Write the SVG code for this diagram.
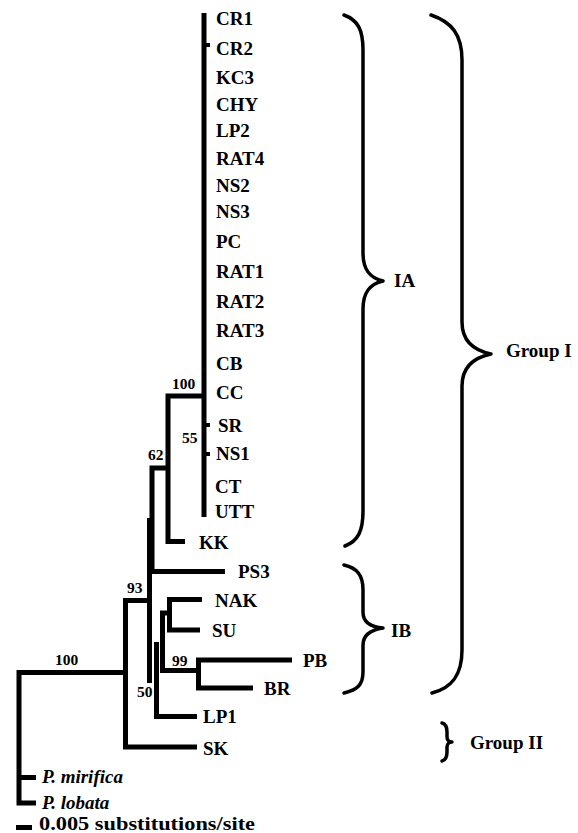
<svg xmlns="http://www.w3.org/2000/svg" width="578" height="833" viewBox="0 0 578 833">
<style>
.t{font-family:"Liberation Serif","Times New Roman",serif;font-weight:bold;font-size:19px;fill:#000}
.it{font-style:italic}
.bs{font-family:"Liberation Serif","Times New Roman",serif;font-weight:bold;font-size:15.5px;fill:#000}
.br{fill:none;stroke:#000;stroke-width:5;stroke-linejoin:miter;stroke-linecap:butt}
.tk{fill:none;stroke:#000;stroke-width:4}
.brace{fill:none;stroke:#000;stroke-width:3.5;stroke-linecap:round;stroke-linejoin:round}
</style>
<rect width="578" height="833" fill="#fff"/>
<g id="connectors">
<path class="br" d="M204,13 V517" stroke-width="5.5"/>
<path class="tk" d="M204,45 H210 M204,425 H210 M204,454 H210"/>
<path class="br" d="M204,396 H168 V541.5 H185"/>
<path class="br" d="M168,468 H152 V571.5 H225"/>
<path class="br" d="M149.5,518 V683"/>
<path class="br" d="M149.5,600.5 H125.5 V747 H197"/>
<path class="br" d="M125.5,672.5 H19 V803 H36"/>
<path class="br" d="M19,777.5 H36"/>
<path class="br" d="M156.5,642 V716.5 H197"/>
<path class="br" d="M169.5,613 H162.5 V670.5 H198.5"/>
<path class="br" d="M292,660 H198.5 V688 H253"/>
<path class="br" d="M202,599.5 H169.5 V630 H200"/>
</g>
<g id="leaves">
<g id="CR1"><text class="t" x="216" y="25">CR1</text></g>
<g id="CR2"><text class="t" x="216" y="55">CR2</text></g>
<g id="KC3"><text class="t" x="216" y="84">KC3</text></g>
<g id="CHY"><text class="t" x="216" y="111">CHY</text></g>
<g id="LP2"><text class="t" x="216" y="137">LP2</text></g>
<g id="RAT4"><text class="t" x="216" y="165">RAT4</text></g>
<g id="NS2"><text class="t" x="216" y="192">NS2</text></g>
<g id="NS3"><text class="t" x="216" y="218">NS3</text></g>
<g id="PC"><text class="t" x="216" y="248">PC</text></g>
<g id="RAT1"><text class="t" x="216" y="278">RAT1</text></g>
<g id="RAT2"><text class="t" x="216" y="308">RAT2</text></g>
<g id="RAT3"><text class="t" x="216" y="337">RAT3</text></g>
<g id="CB"><text class="t" x="216" y="370">CB</text></g>
<g id="CC"><text class="t" x="216" y="399">CC</text></g>
<g id="SR"><text class="t" x="218" y="432">SR</text></g>
<g id="NS1"><text class="t" x="216" y="460">NS1</text></g>
<g id="CT"><text class="t" x="215" y="493">CT</text></g>
<g id="UTT"><text class="t" x="215" y="518">UTT</text></g>
<g id="KK"><text class="t" x="199" y="549">KK</text></g>
<g id="PS3"><text class="t" x="238" y="578">PS3</text></g>
<g id="NAK"><text class="t" x="215" y="607">NAK</text></g>
<g id="SU"><text class="t" x="212" y="637">SU</text></g>
<g id="PB"><text class="t" x="303" y="667">PB</text></g>
<g id="BR"><text class="t" x="264" y="695">BR</text></g>
<g id="LP1"><text class="t" x="203" y="723">LP1</text></g>
<g id="SK"><text class="t" x="203" y="755">SK</text></g>
<g id="Pmirifica"><text class="t it" x="42" y="783">P. mirifica</text></g>
<g id="Plobata"><text class="t it" x="42" y="809">P. lobata</text></g>
</g>
<g id="support">
<text class="bs" x="172" y="389">100</text>
<text class="bs" x="182" y="443">55</text>
<text class="bs" x="148" y="460">62</text>
<text class="bs" x="127" y="593">93</text>
<text class="bs" x="172" y="666">99</text>
<text class="bs" x="55" y="665">100</text>
<text class="bs" x="137" y="697">50</text>
</g>
<g id="braceIA">
<path class="brace" d="M344,15 C358,20 363,30 363,50 L363,253 C363,270 370,278 383,281 C370,284 363,292 363,309 L363,511 C363,531 358,541 345,546"/>
<text class="t" x="394" y="287">IA</text>
</g>
<g id="braceIB">
<path class="brace" d="M344,565 C357,568 363,575 363,590 L363,612 C363,622 370,627 383,628 C370,630 363,635 363,645 L363,672 C363,685 357,690 344,693"/>
<text class="t" x="391" y="637">IB</text>
</g>
<g id="braceGroupI">
<path class="brace" d="M431,15 C452,22 462,35 462,60 L462,322 C462,340 472,350 491,354 C472,358 462,368 462,386 L462,650 C462,675 452,688 432,693"/>
<text class="t" x="506" y="357">Group I</text>
</g>
<g id="braceGroupII">
<path class="brace" d="M442,723 C446,724 447,727 447,732 L447,737 C447,740 449,742 452,742 C449,742 447,744 447,747 L447,752 C447,757 446,760 442,761"/>
<text class="t" x="470" y="749">Group II</text>
</g>
<g id="scale">
<rect x="16" y="825" width="16" height="5" fill="#000"/>
<text class="t" x="39" y="830" font-size="15" textLength="216" lengthAdjust="spacingAndGlyphs">0.005 substitutions/site</text>
</g>
</svg>
